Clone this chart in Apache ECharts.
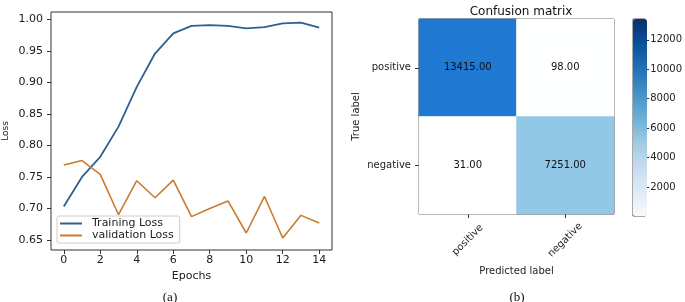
<!DOCTYPE html>
<html>
<head>
<meta charset="utf-8">
<script src="https://cdn.jsdelivr.net/npm/echarts@6/dist/echarts.min.js"></script>
<style>
html,body{margin:0;padding:0;background:#fff;}
#c{width:685px;height:302px;}
</style>
</head>
<body>
<div id="c"></div>
<script>
// ---- data ----
const epochs = [0,1,2,3,4,5,6,7,8,9,10,11,12,13,14];
const trainingLoss = [0.703,0.750,0.782,0.830,0.893,0.946,0.978,0.990,0.991,0.990,0.986,0.988,0.994,0.995,0.987];
const validationLoss = [0.769,0.776,0.754,0.690,0.744,0.717,0.745,0.687,0.700,0.712,0.661,0.719,0.653,0.689,0.677];
const lossTicks = [0.65,0.70,0.75,0.80,0.85,0.90,0.95,1.00];
const epochTicks = [0,2,4,6,8,10,12,14];
const predictedLabels = ['positive','negative'];
const trueLabels = ['positive','negative'];
// [predictedIndex, trueIndex, count]
const matrix = [[0,0,13415],[1,0,98],[0,1,31],[1,1,7251]];
const colorbarTicks = [2000,4000,6000,8000,10000,12000];

const font = 'DejaVu Sans';
const chart = echarts.init(document.getElementById('c'), null, {renderer:'canvas'});
const cmin = 31, cmax = 13415;
const lineIcon = 'path://M0,0 L22,0 L22,2 L0,2 Z';

const option = {
  animation:false,
  backgroundColor:'#fff',
  title:[
    {text:'Confusion matrix', left:516, top:1, textAlign:'center',
     textStyle:{fontFamily:font,fontSize:12,fontWeight:'normal',color:'#111'}},
    {text:'(a)', left:165, top:286, textAlign:'center',
     textStyle:{fontFamily:'Liberation Serif',fontSize:13,fontWeight:'normal',color:'#111'}},
    {text:'(b)', left:512, top:286, textAlign:'center',
     textStyle:{fontFamily:'Liberation Serif',fontSize:13,fontWeight:'normal',color:'#111'}}
  ],
  grid:[
    {left:51, top:12, width:281, height:238, show:true, borderColor:'#333', borderWidth:1, containLabel:false},
    {left:419, top:19, width:195, height:195, show:true, borderColor:'#444', borderWidth:1, containLabel:false},
    {left:633, top:19, width:14, height:197, show:true, borderColor:'#555', borderWidth:1, containLabel:false}
  ],
  legend:{
    left:57, top:216, orient:'vertical', itemWidth:22, itemHeight:10, itemGap:1,
    padding:[2,6,2,3], borderColor:'#ccc', borderWidth:1, borderRadius:2, backgroundColor:'#fff',
    textStyle:{fontFamily:font,fontSize:11,color:'#222',padding:[0,0,0,5]},
    data:[{name:'Training Loss', icon:lineIcon},{name:'validation Loss', icon:lineIcon}]
  },
  xAxis:[
    {gridIndex:0, type:'value', min:-0.7, max:14.7,
     name:'Epochs', nameLocation:'middle', nameGap:15,
     nameTextStyle:{fontFamily:font,fontSize:11,color:'#222'},
     axisLine:{show:false, onZero:false}, splitLine:{show:false},
     axisTick:{show:true, length:4, lineStyle:{color:'#333'}, customValues:epochTicks},
     axisLabel:{fontFamily:font,fontSize:11,color:'#1a1a1a',margin:5, customValues:epochTicks}},
    {gridIndex:1, type:'category', data:predictedLabels,
     name:'Predicted label', nameLocation:'middle', nameGap:49,
     nameTextStyle:{fontFamily:font,fontSize:10,color:'#222'},
     axisLine:{show:false, onZero:false}, splitLine:{show:false},
     axisTick:{show:true, alignWithLabel:true, length:4, lineStyle:{color:'#333'}},
     axisLabel:{fontFamily:font,fontSize:10,color:'#222',rotate:45,align:'center',verticalAlign:'middle',margin:26}},
    {gridIndex:2, type:'category', data:['c'], show:false}
  ],
  yAxis:[
    {gridIndex:0, type:'value', min:0.634, max:1.012,
     name:'Loss', nameLocation:'middle', nameGap:41,
     nameTextStyle:{fontFamily:font,fontSize:9,color:'#222'},
     axisLine:{show:false, onZero:false}, splitLine:{show:false},
     axisTick:{show:true, length:4, lineStyle:{color:'#333'}, customValues:lossTicks},
     axisLabel:{fontFamily:font,fontSize:11,color:'#1a1a1a',margin:8, customValues:lossTicks,
       formatter:v=>v.toFixed(2)}},
    {gridIndex:1, type:'category', data:trueLabels, inverse:true,
     name:'True label', nameLocation:'middle', nameGap:58,
     nameTextStyle:{fontFamily:font,fontSize:10,color:'#222'},
     axisLine:{show:false, onZero:false}, splitLine:{show:false},
     axisTick:{show:true, alignWithLabel:true, length:4, lineStyle:{color:'#333'}},
     axisLabel:{fontFamily:font,fontSize:10,color:'#222',margin:8}},
    {gridIndex:2, type:'value', position:'right', min:cmin, max:cmax,
     axisLine:{show:false, onZero:false}, splitLine:{show:false},
     axisTick:{show:true, length:4, lineStyle:{color:'#333'}, customValues:colorbarTicks},
     axisLabel:{fontFamily:font,fontSize:10,color:'#222',margin:5, customValues:colorbarTicks,
       formatter:v=>String(v)}}
  ],
  visualMap:[
    {type:'continuous', show:false, seriesIndex:2, min:cmin, max:cmax,
     inRange:{color:['#ffffff','#9ccfe8','#1f78d1']}},
    {type:'continuous', show:true, seriesIndex:3, min:cmin, max:cmax, calculable:false,
     left:633, top:19, itemWidth:14, itemHeight:197, padding:0, showLabel:false, text:null,
     inRange:{color:['#f7fbff','#deebf7','#c6dbef','#9ecae1','#6baed6','#4292c6','#2171b5','#08519c','#08306b']}}
  ],
  series:[
    {name:'Training Loss', type:'line', xAxisIndex:0, yAxisIndex:0, symbol:'none',
     lineStyle:{color:'#2e6190', width:1.8}, itemStyle:{color:'#2e6190'},
     data:epochs.map((e,i)=>[e,trainingLoss[i]])},
    {name:'validation Loss', type:'line', xAxisIndex:0, yAxisIndex:0, symbol:'none',
     lineStyle:{color:'#cc7a2c', width:1.6}, itemStyle:{color:'#cc7a2c'},
     data:epochs.map((e,i)=>[e,validationLoss[i]])},
    {name:'cm', type:'heatmap', xAxisIndex:1, yAxisIndex:1, data:matrix,
     label:{show:true, fontFamily:font, fontSize:10, color:'#111',
       formatter:p=>p.value[2].toFixed(2)},
     emphasis:{disabled:true}},
    {name:'cbar', type:'scatter', xAxisIndex:2, yAxisIndex:2, data:[]}
  ]
};
chart.setOption(option);
</script>
</body>
</html>
